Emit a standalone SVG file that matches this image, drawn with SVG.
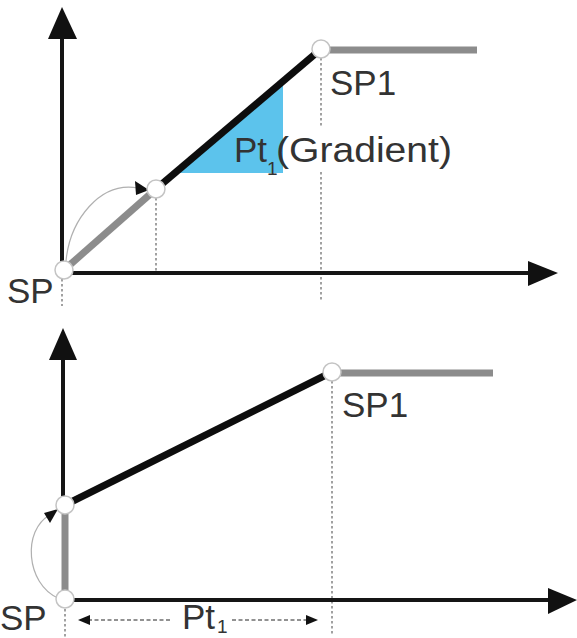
<svg xmlns="http://www.w3.org/2000/svg" width="577" height="638" viewBox="0 0 577 638">
<style>
.axis{stroke:#151515;stroke-width:4;fill:none}
.head{fill:#111}
.gray{stroke:#8c8c8c;stroke-width:7;fill:none}
.black{stroke:#0d0d0d;stroke-width:7;fill:none}
.dot{stroke:#8a8a8a;stroke-width:1.6;stroke-dasharray:2.5,2.5;fill:none}
.dash{stroke:#6e6e6e;stroke-width:1.3;stroke-dasharray:4,2.5;fill:none}
.arc{stroke:#b0b0b0;stroke-width:1.2;fill:none}
.pt{fill:#fff;stroke:#c4c4c4;stroke-width:1.5}
.lbl{font-family:"Liberation Sans",Arial,sans-serif;font-size:35px;fill:#333}
.sub{font-family:"Liberation Sans",Arial,sans-serif;font-size:19px;fill:#333}
</style>
<g id="chart-top">
  <g id="guides-top">
    <line class="dot" x1="156" y1="198" x2="156" y2="272"/>
    <line class="dot" x1="321" y1="58" x2="321" y2="128"/>
    <line class="dot" x1="321" y1="172" x2="321" y2="302"/>
    <line class="dot" x1="62" y1="279" x2="62" y2="306"/>
  </g>
  <g id="gradient-triangle">
    <polygon points="175,173 283,173 283,80" fill="#5cc3ec"/>
  </g>
  <g id="axes-top">
    <line class="axis" x1="62" y1="270" x2="62" y2="36"/>
    <polygon class="head" points="62,7 48,39 77,39"/>
    <line class="axis" x1="62" y1="273" x2="532" y2="273"/>
    <polygon class="head" points="558,273 528,261 528,286"/>
  </g>
  <g id="connectors-top">
    <line class="gray" x1="64" y1="270" x2="156" y2="189"/>
    <line class="black" x1="156" y1="189" x2="321" y2="49"/>
    <line class="gray" x1="321" y1="50" x2="477" y2="50"/>
    <path class="arc" d="M66,261 C70,220 100,181 138,188"/>
    <polygon class="head" points="149,190 135,181 136,195"/>
  </g>
  <g id="node-sp-top"><circle class="pt" cx="64" cy="270" r="9"/></g>
  <g id="node-mid-top"><circle class="pt" cx="156" cy="189" r="9"/></g>
  <g id="node-sp1-top"><circle class="pt" cx="321" cy="49" r="9"/></g>
  <g id="labels-top">
    <text class="lbl" x="7" y="303">SP</text>
    <text class="lbl" x="330" y="95">SP1</text>
    <text class="lbl" x="234" y="162">Pt</text>
    <text class="sub" x="267" y="175">1</text>
    <text class="lbl" x="276" y="162" textLength="176" lengthAdjust="spacingAndGlyphs">(Gradient)</text>
  </g>
</g>
<g id="chart-bottom">
  <g id="guides-bottom">
    <line class="dot" x1="332" y1="381" x2="332" y2="634"/>
    <line class="dot" x1="65" y1="609" x2="65" y2="638"/>
    <line class="dash" x1="88" y1="620" x2="170" y2="620"/>
    <polygon class="head" points="78,620 90,615 90,625"/>
    <line class="dash" x1="232" y1="620" x2="306" y2="620"/>
    <polygon class="head" points="318,620 306,615 306,625"/>
  </g>
  <g id="axes-bottom">
    <line class="axis" x1="63" y1="500" x2="63" y2="356"/>
    <polygon class="head" points="63,328 49,360 77,360"/>
    <line class="axis" x1="65" y1="600" x2="550" y2="600"/>
    <polygon class="head" points="577,600 548,588 548,614"/>
  </g>
  <g id="connectors-bottom">
    <line class="gray" x1="65" y1="505" x2="65" y2="599"/>
    <line class="black" x1="65" y1="505" x2="332" y2="372"/>
    <line class="gray" x1="332" y1="373" x2="493" y2="373"/>
    <path class="arc" d="M58,598 C26,584 22,530 50,515"/>
    <polygon class="head" points="58,509 44,513 50,523"/>
  </g>
  <g id="node-sp-bottom"><circle class="pt" cx="65" cy="599" r="9"/></g>
  <g id="node-mid-bottom"><circle class="pt" cx="65" cy="505" r="9"/></g>
  <g id="node-sp1-bottom"><circle class="pt" cx="332" cy="372" r="9"/></g>
  <g id="labels-bottom">
    <text class="lbl" x="0" y="630">SP</text>
    <text class="lbl" x="182" y="629">Pt</text>
    <text class="sub" x="217" y="633" font-size="15">1</text>
    <text class="lbl" x="342" y="417">SP1</text>
  </g>
</g>
</svg>
